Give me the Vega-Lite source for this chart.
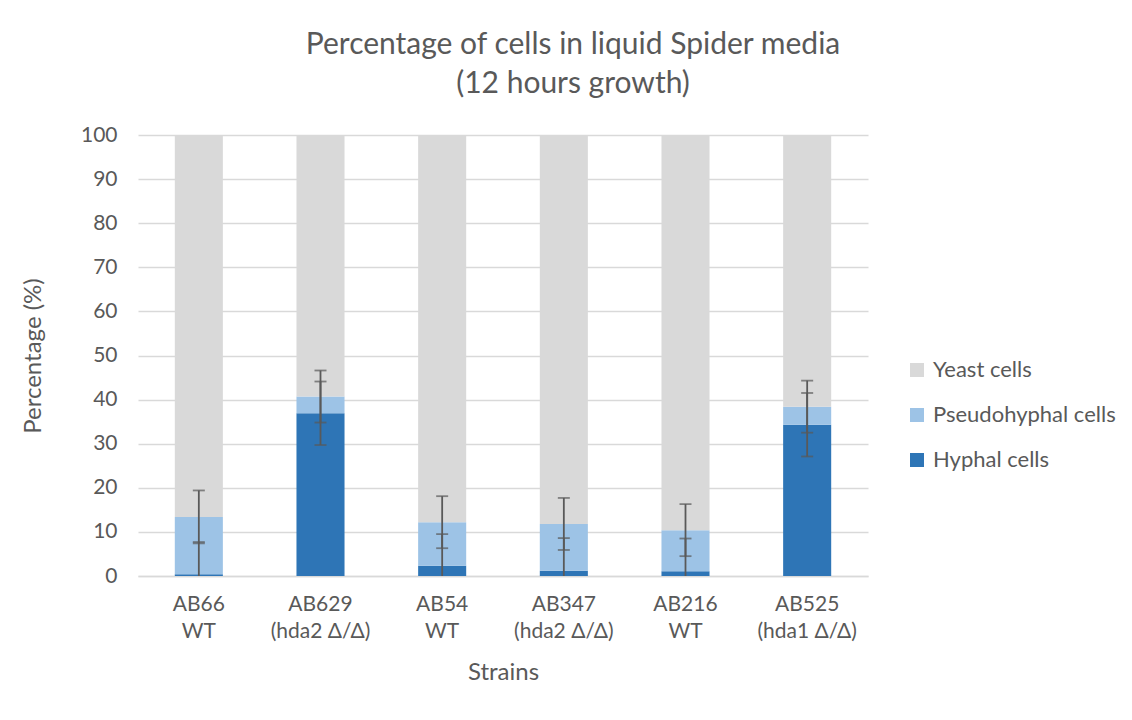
{
  "$schema": "https://vega.github.io/schema/vega-lite/v6.json",
  "width": 730,
  "height": 441,
  "autosize": {"type": "none"},
  "padding": {"left": 138, "top": 135, "right": 264, "bottom": 144},
  "background": "white",
  "config": {
    "font": "Lato",
    "view": {"stroke": null},
    "axis": {"labelFont": "Lato", "titleFont": "Lato", "labelColor": "#595959", "titleColor": "#595959", "titleFontWeight": "normal"},
    "axisY": {
      "titleFontSize": 24,
      "titlePadding": 35,
      "labelFontSize": 21,
      "labelPadding": 21,
      "values": [0, 10, 20, 30, 40, 50, 60, 70, 80, 90, 100],
      "gridColor": "#d9d9d9",
      "gridWidth": 1.5,
      "domain": false,
      "ticks": false
    },
    "legend": {"labelFont": "Lato"}
  },
  "title": {
    "text": ["Percentage of cells in liquid Spider media", "(12 hours growth)"],
    "font": "Lato",
    "fontSize": 30,
    "fontWeight": "normal",
    "color": "#595959",
    "anchor": "middle",
    "frame": "group",
    "dx": 70,
    "lineHeight": 39,
    "offset": 25
  },
  "data": {
    "values": [
      {"strain": "AB66|WT", "type": "Hyphal cells", "value": 0.4, "err": 7.3},
      {"strain": "AB66|WT", "type": "Pseudohyphal cells", "value": 13.0, "err": 6.0},
      {"strain": "AB66|WT", "type": "Yeast cells", "value": 86.6, "err": null},
      {"strain": "AB629|(hda2 Δ/Δ)", "type": "Hyphal cells", "value": 36.9, "err": 7.2},
      {"strain": "AB629|(hda2 Δ/Δ)", "type": "Pseudohyphal cells", "value": 3.8, "err": 5.9},
      {"strain": "AB629|(hda2 Δ/Δ)", "type": "Yeast cells", "value": 59.3, "err": null},
      {"strain": "AB54|WT", "type": "Hyphal cells", "value": 2.3, "err": 7.2},
      {"strain": "AB54|WT", "type": "Pseudohyphal cells", "value": 9.9, "err": 5.9},
      {"strain": "AB54|WT", "type": "Yeast cells", "value": 87.8, "err": null},
      {"strain": "AB347|(hda2 Δ/Δ)", "type": "Hyphal cells", "value": 1.2, "err": 7.4},
      {"strain": "AB347|(hda2 Δ/Δ)", "type": "Pseudohyphal cells", "value": 10.6, "err": 5.9},
      {"strain": "AB347|(hda2 Δ/Δ)", "type": "Yeast cells", "value": 88.2, "err": null},
      {"strain": "AB216|WT", "type": "Hyphal cells", "value": 1.1, "err": 7.4},
      {"strain": "AB216|WT", "type": "Pseudohyphal cells", "value": 9.3, "err": 5.9},
      {"strain": "AB216|WT", "type": "Yeast cells", "value": 89.6, "err": null},
      {"strain": "AB525|(hda1 Δ/Δ)", "type": "Hyphal cells", "value": 34.3, "err": 7.2},
      {"strain": "AB525|(hda1 Δ/Δ)", "type": "Pseudohyphal cells", "value": 4.1, "err": 5.9},
      {"strain": "AB525|(hda1 Δ/Δ)", "type": "Yeast cells", "value": 61.6, "err": null}
    ]
  },
  "encoding": {
    "x": {
      "field": "strain",
      "type": "nominal",
      "sort": null,
      "scale": {"paddingInner": 0.605, "paddingOuter": 0.3025},
      "axis": {
        "title": "Strains",
        "titleFontSize": 24,
        "titlePadding": 19,
        "labelFontSize": 21,
        "labelAngle": 0,
        "labelPadding": 17,
        "labelLineHeight": 27,
        "labelExpr": "split(datum.label, '|')",
        "domainColor": "#d9d9d9",
        "domainWidth": 1.5,
        "ticks": false
      }
    }
  },
  "layer": [
    {
      "mark": {"type": "bar"},
      "encoding": {
        "y": {
          "field": "value",
          "type": "quantitative",
          "stack": "zero",
          "title": "Percentage (%)",
          "scale": {"domain": [0, 100]}
        },
        "color": {
          "field": "type",
          "type": "nominal",
          "scale": {
            "domain": ["Yeast cells", "Pseudohyphal cells", "Hyphal cells"],
            "range": ["#d9d9d9", "#9dc3e6", "#2e75b6"]
          },
          "legend": {
            "title": null,
            "orient": "none",
            "legendX": 768,
            "legendY": 224,
            "padding": 0,
            "symbolType": "square",
            "symbolSize": 196,
            "symbolStrokeWidth": 0,
            "labelFontSize": 22,
            "labelColor": "#595959",
            "labelOffset": 5,
            "labelLimit": 400,
            "rowPadding": 23
          }
        },
        "order": {"field": "type", "sort": "ascending"}
      }
    },
    {
      "transform": [
        {"stack": "value", "groupby": ["strain"], "sort": [{"field": "type", "order": "ascending"}], "as": ["s0", "s1"]},
        {"filter": "datum.err != null"}
      ],
      "mark": {
        "type": "errorbar",
        "clip": true,
        "color": "#595959",
        "rule": {"strokeWidth": 1.8, "color": "#595959"},
        "ticks": {"size": 12, "thickness": 1.8, "color": "#595959"}
      },
      "encoding": {
        "y": {"field": "s1", "type": "quantitative", "title": "Percentage (%)"},
        "yError": {"field": "err"}
      }
    }
  ]
}
